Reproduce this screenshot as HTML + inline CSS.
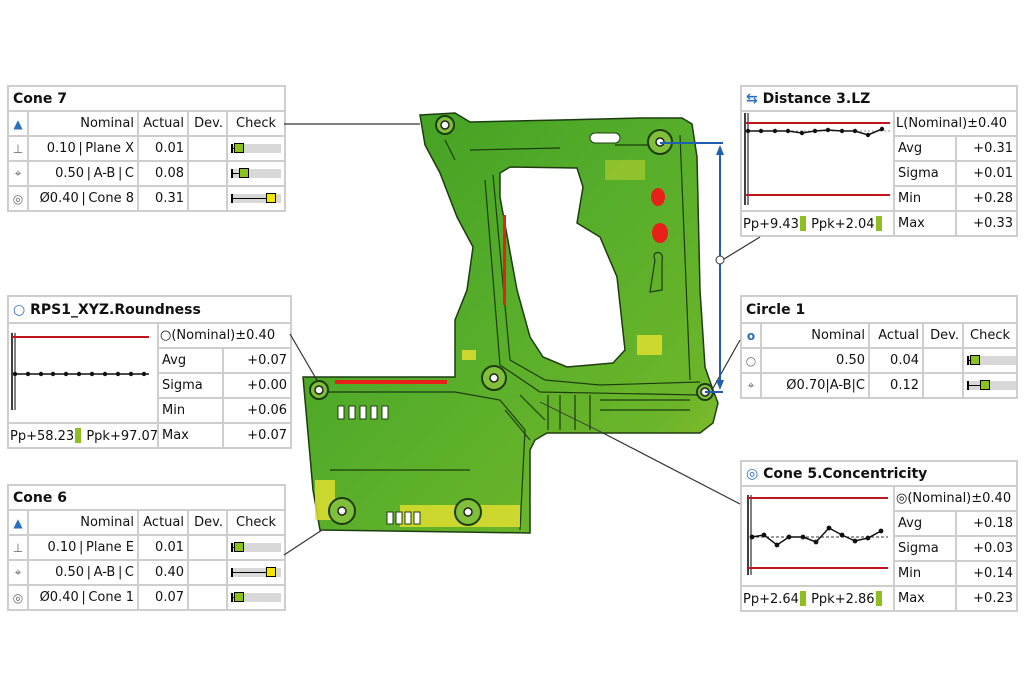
<!DOCTYPE html>
<html><head><meta charset="utf-8"><style>
body{margin:0;width:1024px;height:683px;background:#fff;position:relative;overflow:hidden;font-family:"DejaVu Sans","Liberation Sans",sans-serif}
.t{position:absolute;border-collapse:collapse;table-layout:fixed;font-size:13px;background:#fff;color:#111}
.t td{border:2px solid #cecece;padding:0 3px;text-align:right;white-space:nowrap;overflow:hidden;height:23px}
.t td.h{text-align:left;font-weight:bold;font-size:14px;padding-left:4px}
.t td.ic{text-align:center;padding:0;color:#666;font-size:12px}
.t td.l{text-align:left}
.ck{position:relative;width:50px;height:9px;background:#d8d8d8}
.ck i{position:absolute;left:0;top:0;height:9px;border-left:2px solid #000;box-sizing:border-box}
.ck i:after{content:"";position:absolute;left:0;right:0;top:4px;height:1px;background:#000}
.ck b{position:absolute;top:-1px;width:10px;height:10px;box-sizing:border-box;border:1px solid #000;background:#8cc21c}
.ck b.y{background:#f2e600}
.g{display:inline-block;width:6px;height:15px;background:#8cbf1f;vertical-align:-3px;margin:0 1px}
svg{position:absolute;left:0;top:0}
</style></head><body>

<svg width="1024" height="683">
<defs>
<linearGradient id="pg" x1="0" y1="0" x2="1" y2="1">
<stop offset="0" stop-color="#3f9d22"/><stop offset="0.45" stop-color="#55ad2a"/><stop offset="0.8" stop-color="#6cb52a"/><stop offset="1" stop-color="#9cc12a"/>
</linearGradient>
</defs>
<path fill="url(#pg)" fill-rule="evenodd" stroke="#1d3d10" stroke-width="1.5" d="M420,115 L455,113 470,122 560,120 640,118 682,118 692,124 697,157 700,290 705,367 713,390 718,403 713,423 700,433 547,433 535,440 530,450 530,533 320,530 313,490 303,377 455,377 455,320 467,290 473,247 457,217 440,173 425,145 Z M500,173 L510,167 577,168 583,187 577,223 600,237 617,277 625,350 613,363 567,367 543,357 530,337 517,290 500,197 Z"/>
<g fill="none" stroke="#1d3d10" stroke-width="1.2">
<path d="M493,175 L510,360 545,380 600,385 700,382"/>
<path d="M485,180 L500,365 540,392 700,395"/>
<path d="M320,392 L455,392 500,400 525,430 520,530"/>
<path d="M330,470 L470,470"/>
<path d="M445,140 L455,160 M470,150 L560,148 M615,145 L660,145"/>
<path d="M548,395 L548,430 M560,395 L560,430 M575,395 L575,430 M590,395 L590,430 M600,400 L690,400 M600,410 L690,410"/>
<path d="M520,395 L545,420 M505,410 L530,440"/>
<path d="M680,135 L690,380"/>
<path d="M655,260 C650,250 665,250 662,260 L662,290 650,292 Z"/>
</g>
<g fill="#e8e230" opacity="0.8">
<rect x="462" y="350" width="14" height="10"/><rect x="637" y="335" width="25" height="20"/><rect x="315" y="480" width="20" height="40"/><rect x="400" y="505" width="120" height="22"/>
<rect x="605" y="160" width="40" height="20" opacity="0.5"/>
</g>
<g fill="#e8201a">
<rect x="335" y="380" width="112" height="4"/>
<ellipse cx="658" cy="197" rx="7" ry="9"/><ellipse cx="660" cy="233" rx="8" ry="10"/>
<rect x="503" y="215" width="3" height="90"/>
</g>
<g fill="#fff" stroke="#1d3d10" stroke-width="1">
<rect x="338" y="406" width="6" height="13"/><rect x="349" y="406" width="6" height="13"/><rect x="360" y="406" width="6" height="13"/><rect x="371" y="406" width="6" height="13"/><rect x="382" y="406" width="6" height="13"/>
<rect x="387" y="512" width="6" height="12"/><rect x="396" y="512" width="6" height="12"/><rect x="405" y="512" width="6" height="12"/><rect x="414" y="512" width="6" height="12"/>
<rect x="590" y="133" width="30" height="10" rx="5"/>
</g>
<g stroke="#1d3d10" stroke-width="2" fill="#7fbf3a">
<circle cx="445" cy="125" r="9"/><circle cx="660" cy="142" r="12"/><circle cx="494" cy="378" r="12"/><circle cx="705" cy="392" r="8"/><circle cx="342" cy="511" r="13"/><circle cx="468" cy="512" r="13"/><circle cx="319" cy="390" r="9"/>
</g>
<g fill="#fff" stroke="#222" stroke-width="1.5">
<circle cx="445" cy="125" r="4"/><circle cx="660" cy="142" r="4"/><circle cx="494" cy="378" r="4"/><circle cx="705" cy="392" r="4"/><circle cx="342" cy="511" r="4"/><circle cx="468" cy="512" r="4"/><circle cx="319" cy="390" r="4"/>
</g>
</svg>

<table class="t" style="left:7px;top:85px;width:277px">
<col style="width:20px"><col style="width:110px"><col style="width:50px"><col style="width:39px"><col style="width:58px">
<tr><td class="h" colspan="5">Cone 7</td></tr>
<tr><td class="ic" style="color:#2a6fc0">▲</td><td>Nominal</td><td>Actual</td><td>Dev.</td><td class="l" style="text-align:center">Check</td></tr>
<tr><td class="ic">⊥</td><td>0.10&thinsp;|&thinsp;Plane X</td><td>0.01</td><td></td><td class="l"><div class="ck"><i style="width:4px"></i><b style="left:3px"></b></div></td></tr>
<tr><td class="ic">⌖</td><td>0.50&thinsp;|&thinsp;A-B&thinsp;|&thinsp;C</td><td>0.08</td><td></td><td class="l"><div class="ck"><i style="width:9px"></i><b style="left:8px"></b></div></td></tr>
<tr><td class="ic">◎</td><td>Ø0.40&thinsp;|&thinsp;Cone 8</td><td>0.31</td><td></td><td class="l"><div class="ck"><i style="width:36px"></i><b class="y" style="left:35px"></b></div></td></tr>
</table>

<table class="t" style="left:7px;top:484px;width:277px">
<col style="width:20px"><col style="width:110px"><col style="width:50px"><col style="width:39px"><col style="width:58px">
<tr><td class="h" colspan="5">Cone 6</td></tr>
<tr><td class="ic" style="color:#2a6fc0">▲</td><td>Nominal</td><td>Actual</td><td>Dev.</td><td class="l" style="text-align:center">Check</td></tr>
<tr><td class="ic">⊥</td><td>0.10&thinsp;|&thinsp;Plane E</td><td>0.01</td><td></td><td class="l"><div class="ck"><i style="width:4px"></i><b style="left:3px"></b></div></td></tr>
<tr><td class="ic">⌖</td><td>0.50&thinsp;|&thinsp;A-B&thinsp;|&thinsp;C</td><td>0.40</td><td></td><td class="l"><div class="ck"><i style="width:36px"></i><b class="y" style="left:35px"></b></div></td></tr>
<tr><td class="ic">◎</td><td>Ø0.40&thinsp;|&thinsp;Cone 1</td><td>0.07</td><td></td><td class="l"><div class="ck"><i style="width:4px"></i><b style="left:3px"></b></div></td></tr>
</table>

<table class="t" style="left:740px;top:295px;width:276px">
<col style="width:20px"><col style="width:108px"><col style="width:54px"><col style="width:40px"><col style="width:54px">
<tr style="height:27px"><td class="h" colspan="5">Circle 1</td></tr>
<tr><td class="ic" style="color:#2a6fc0;font-weight:bold">o</td><td>Nominal</td><td>Actual</td><td>Dev.</td><td class="l" style="text-align:center">Check</td></tr>
<tr><td class="ic">○</td><td>0.50</td><td>0.04</td><td></td><td class="l"><div class="ck"><i style="width:4px"></i><b style="left:3px"></b></div></td></tr>
<tr><td class="ic">⌖</td><td>Ø0.70|A-B|C</td><td>0.12</td><td></td><td class="l"><div class="ck"><i style="width:14px"></i><b style="left:13px"></b></div></td></tr>
</table>

<table class="t" style="left:740px;top:85px;width:276px">
<col style="width:153px"><col style="width:62px"><col style="width:61px">
<tr><td class="h" colspan="3"><span style="color:#2a6fc0">⇆</span> Distance 3.LZ</td></tr>
<tr><td rowspan="4"></td><td colspan="2" class="l" style="padding:0 1px">L(Nominal)±0.40</td></tr>
<tr><td class="l">Avg</td><td>+0.31</td></tr>
<tr><td class="l">Sigma</td><td>+0.01</td></tr>
<tr><td class="l">Min</td><td>+0.28</td></tr>
<tr><td class="l" style="padding:0 1px">Pp+9.43<span class="g"></span> Ppk+2.04<span class="g"></span></td><td class="l">Max</td><td>+0.33</td></tr>
</table>

<table class="t" style="left:740px;top:460px;width:276px">
<col style="width:153px"><col style="width:62px"><col style="width:61px">
<tr><td class="h" colspan="3"><span style="color:#2a6fc0">◎</span> Cone 5.Concentricity</td></tr>
<tr><td rowspan="4"></td><td colspan="2" class="l" style="padding:0 1px">◎(Nominal)±0.40</td></tr>
<tr><td class="l">Avg</td><td>+0.18</td></tr>
<tr><td class="l">Sigma</td><td>+0.03</td></tr>
<tr><td class="l">Min</td><td>+0.14</td></tr>
<tr><td class="l" style="padding:0 1px">Pp+2.64<span class="g"></span> Ppk+2.86<span class="g"></span></td><td class="l">Max</td><td>+0.23</td></tr>
</table>

<table class="t" style="left:7px;top:295px;width:283px">
<col style="width:150px"><col style="width:65px"><col style="width:68px">
<tr style="height:27px"><td class="h" colspan="3"><span style="color:#2a6fc0;font-weight:normal">○</span> RPS1_XYZ.Roundness</td></tr>
<tr><td rowspan="4"></td><td colspan="2" class="l" style="padding:0 1px">○(Nominal)±0.40</td></tr>
<tr><td class="l">Avg</td><td>+0.07</td></tr>
<tr><td class="l">Sigma</td><td>+0.00</td></tr>
<tr><td class="l">Min</td><td>+0.06</td></tr>
<tr><td class="l" style="padding:0 1px">Pp+58.23<span class="g"></span> Ppk+97.07<span class="g"></span></td><td class="l">Max</td><td>+0.07</td></tr>
</table>

<svg width="1024" height="683">
<g stroke="#333" stroke-width="1.2" fill="none">
<line x1="284" y1="124" x2="420" y2="124"/>
<line x1="290" y1="334" x2="318" y2="382"/>
<line x1="284" y1="555" x2="322" y2="530"/>
<line x1="740" y1="340" x2="712" y2="390"/>
<line x1="760" y1="237" x2="724" y2="259"/>
<line x1="740" y1="504" x2="603" y2="433"/>
<line x1="603" y1="433" x2="540" y2="402" stroke-width="0.8"/>
</g>
<g stroke="#1f5fb0" stroke-width="2" fill="none">
<line x1="660" y1="143" x2="723" y2="143"/>
<line x1="705" y1="392" x2="723" y2="392"/>
<line x1="720" y1="150" x2="720" y2="385"/>
</g>
<path d="M720,145 L716,155 L724,155 Z M720,390 L716,380 L724,380 Z" fill="#1f5fb0"/>
<circle cx="720" cy="260" r="4" fill="#fff" stroke="#333" stroke-width="1"/>

<g>
<line x1="745" y1="113" x2="745" y2="205" stroke="#000" stroke-width="1.5"/><line x1="748" y1="113" x2="748" y2="205" stroke="#000" stroke-width="1"/>
<line x1="745" y1="123" x2="890" y2="123" stroke="#c0141e" stroke-width="2"/>
<line x1="745" y1="195" x2="890" y2="195" stroke="#c0141e" stroke-width="2"/>
<line x1="748" y1="131" x2="890" y2="131" stroke="#999" stroke-dasharray="2,2"/>
<polyline fill="none" stroke="#111" stroke-width="1.5" points="748,131 761,131 775,131 788,131 802,133 815,131 828,130 842,131 855,131 868,135 882,129"/>
<g fill="#111"><circle cx="748" cy="131" r="2.2"/><circle cx="761" cy="131" r="2.2"/><circle cx="775" cy="131" r="2.2"/><circle cx="788" cy="131" r="2.2"/><circle cx="802" cy="133" r="2.2"/><circle cx="815" cy="131" r="2.2"/><circle cx="828" cy="130" r="2.2"/><circle cx="842" cy="131" r="2.2"/><circle cx="855" cy="131" r="2.2"/><circle cx="868" cy="135" r="2.2"/><circle cx="882" cy="129" r="2.2"/></g>
</g>
<g>
<line x1="12" y1="333" x2="12" y2="410" stroke="#000" stroke-width="1.5"/><line x1="15" y1="333" x2="15" y2="410" stroke="#000" stroke-width="1"/>
<line x1="12" y1="337" x2="149" y2="337" stroke="#c0141e" stroke-width="2"/>
<line x1="14" y1="374" x2="149" y2="374" stroke="#111" stroke-width="1.5"/>
<g fill="#111"><circle cx="15" cy="374" r="2.2"/><circle cx="28" cy="374" r="2.2"/><circle cx="41" cy="374" r="2.2"/><circle cx="53" cy="374" r="2.2"/><circle cx="66" cy="374" r="2.2"/><circle cx="79" cy="374" r="2.2"/><circle cx="92" cy="374" r="2.2"/><circle cx="105" cy="374" r="2.2"/><circle cx="118" cy="374" r="2.2"/><circle cx="131" cy="374" r="2.2"/><circle cx="144" cy="374" r="2.2"/></g>
</g>
<g>
<line x1="748" y1="495" x2="748" y2="575" stroke="#000" stroke-width="1.5"/><line x1="751" y1="495" x2="751" y2="575" stroke="#000" stroke-width="1"/>
<line x1="748" y1="498" x2="888" y2="498" stroke="#c0141e" stroke-width="2"/>
<line x1="748" y1="568" x2="888" y2="568" stroke="#c0141e" stroke-width="2"/>
<line x1="751" y1="537" x2="888" y2="537" stroke="#333" stroke-dasharray="3,2"/>
<polyline fill="none" stroke="#111" stroke-width="1.5" points="752,537 764,535 777,545 789,537 803,537 816,542 829,528 842,535 855,541 868,538 881,531"/>
<g fill="#111"><circle cx="752" cy="537" r="2.4"/><circle cx="764" cy="535" r="2.4"/><circle cx="777" cy="545" r="2.4"/><circle cx="789" cy="537" r="2.4"/><circle cx="803" cy="537" r="2.4"/><circle cx="816" cy="542" r="2.4"/><circle cx="829" cy="528" r="2.4"/><circle cx="842" cy="535" r="2.4"/><circle cx="855" cy="541" r="2.4"/><circle cx="868" cy="538" r="2.4"/><circle cx="881" cy="531" r="2.4"/></g>
</g>
</svg>
</body></html>
